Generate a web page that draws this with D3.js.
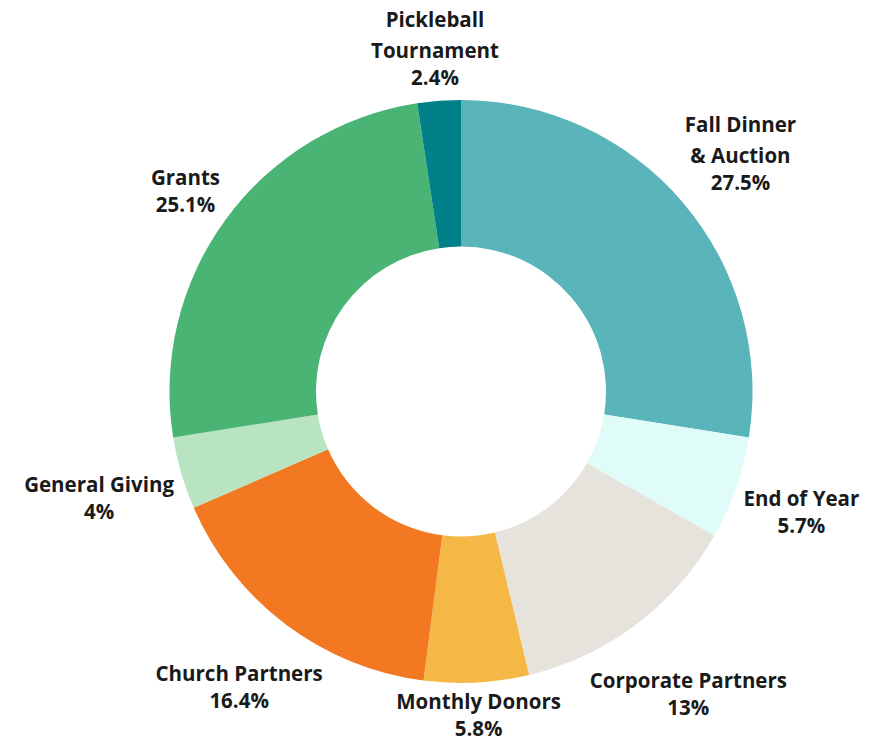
<!DOCTYPE html>
<html><head><meta charset="utf-8">
<script src="https://cdn.jsdelivr.net/npm/d3@7"></script>
<style>html,body{margin:0;padding:0;background:#fff;}</style>
</head><body>
<svg id="chart" width="885" height="744"></svg>
<script>
const categories = [["Fall Dinner", "& Auction"], ["End of Year"], ["Corporate Partners"], ["Monthly Donors"], ["Church Partners"], ["General Giving"], ["Grants"], ["Pickleball", "Tournament"]];
const values = [27.5, 5.7, 13, 5.8, 16.4, 4, 25.1, 2.4];
const valueLabels = ["27.5%", "5.7%", "13%", "5.8%", "16.4%", "4%", "25.1%", "2.4%"];
const colors = ["#5ab5ba", "#e0fcf8", "#e6e2dc", "#f5b745", "#f27821", "#b8e4c1", "#49b473", "#02808a"];

const svg = d3.select("#chart");
const W = 885, H = 744;
const cx = 461, cy = 391.5, outerR = 291.5, innerR = 145, labelR = 297;
const g = svg.append("g").attr("transform", `translate(${cx},${cy})`);

const data = values.map((v, i) => ({name: categories[i], value: v, label: valueLabels[i], color: colors[i]}));
const pie = d3.pie().value(d => d.value).sort(null);
const arc = d3.arc().innerRadius(innerR).outerRadius(outerR);
const arcs = pie(data);

g.selectAll("path.slice").data(arcs).join("path")
  .attr("class", "slice")
  .attr("d", arc)
  .attr("fill", d => d.data.color);

const labels = g.selectAll("g.lbl").data(arcs).join("g").attr("class", "lbl");
labels.each(function(d) {
  const lg = d3.select(this);
  const t = lg.append("text")
    .attr("text-anchor", "middle")
    .attr("font-family", "'Open Sans', 'Noto Sans', sans-serif")
    .attr("font-weight", 700)
    .attr("font-size", 20.5)
    .attr("fill", "#1a1a1a");
  d.data.name.forEach((line, i) => {
    t.append("tspan").attr("x", 0).attr("y", i * 31).text(line);
  });
  t.append("tspan").attr("x", 0).attr("y", (d.data.name.length - 1) * 31 + 27).text(d.data.label);
  const bb = t.node().getBBox();
  const mid = (d.startAngle + d.endAngle) / 2;
  const ux = Math.sin(mid), uy = -Math.cos(mid);
  const support = bb.width / 2 * Math.abs(ux) + bb.height / 2 * Math.abs(uy);
  const dist = labelR + support;
  const bcx = bb.x + bb.width / 2, bcy = bb.y + bb.height / 2;
  let tx = ux * dist - bcx, ty = uy * dist - bcy;
  // keep inside the canvas
  const bottom = cy + ty + bb.y + bb.height;
  if (bottom > H - 2) ty -= bottom - (H - 2);
  const top = cy + ty + bb.y;
  if (top < 2) ty += 2 - top;
  lg.attr("transform", `translate(${tx},${ty})`);
});
</script>
</body></html>
